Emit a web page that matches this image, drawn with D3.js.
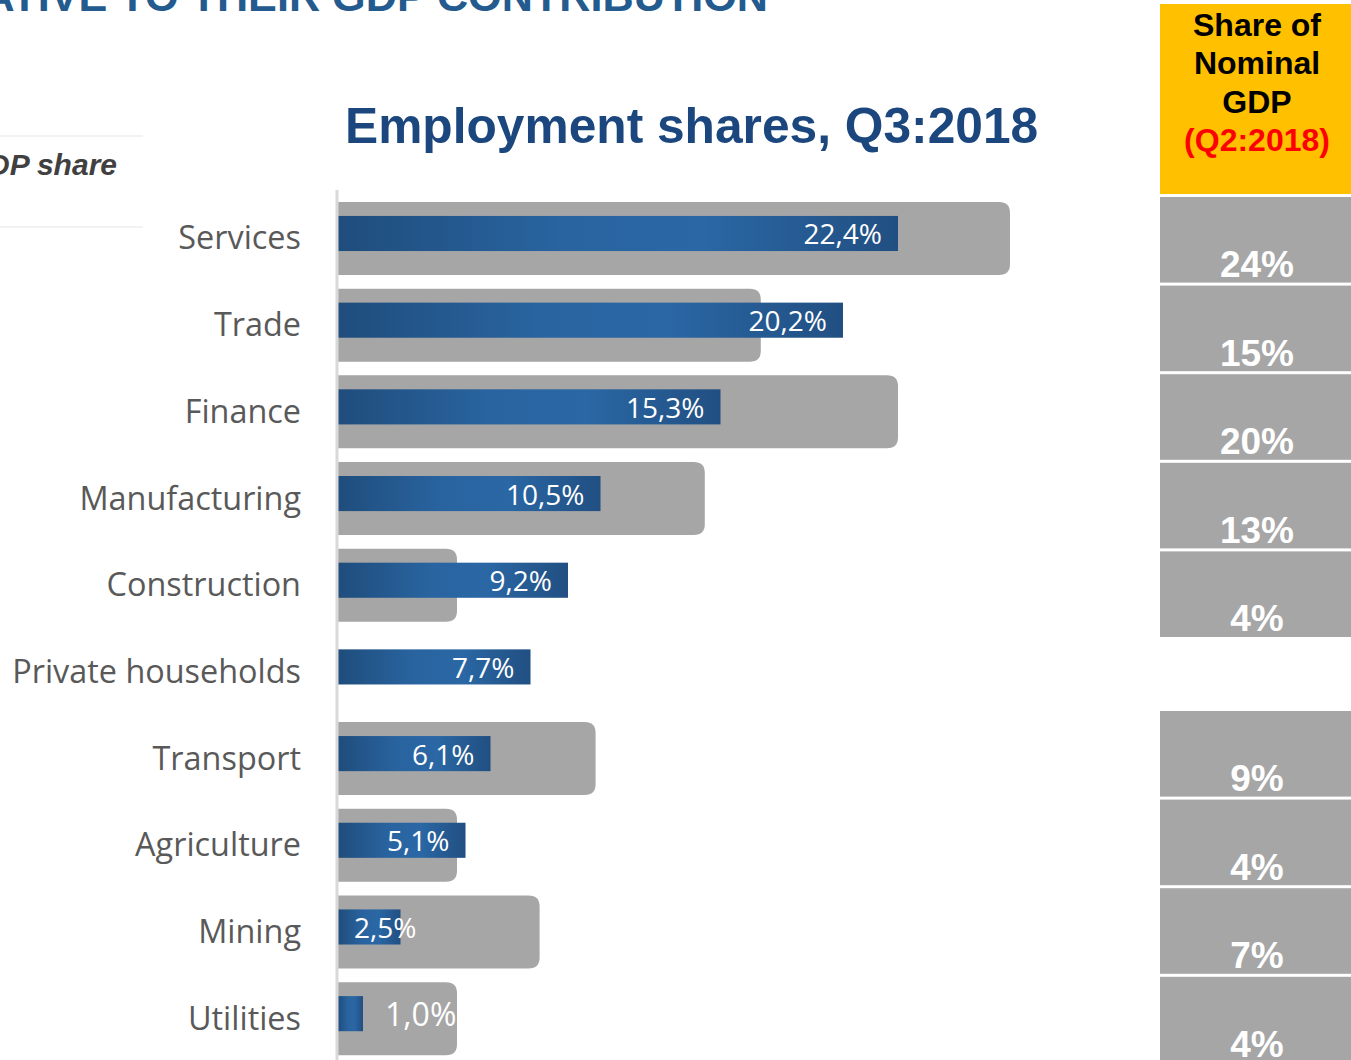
<!DOCTYPE html>
<html>
<head>
<meta charset="utf-8">
<script src="https://cdn.jsdelivr.net/npm/d3@7"></script>
<style>
  html, body { margin: 0; padding: 0; background: #fff; overflow: hidden; }
  svg { display: block; }
</style>
</head>
<body>
<svg id="chart" width="1351" height="1060"></svg>
<script>
// ---------- data ----------
const categories = ["Services", "Trade", "Finance", "Manufacturing", "Construction",
  "Private households", "Transport", "Agriculture", "Mining", "Utilities"];
const employmentShare = [22.4, 20.2, 15.3, 10.5, 9.2, 7.7, 6.1, 5.1, 2.5, 1.0];
const gdpShare = [24.0, 15.1, 20.0, 13.1, 4.25, null, 9.2, 4.25, 7.2, 4.25];
const chartTitle = "Employment shares, Q3:2018";
const slideTitle = "RELATIVE TO THEIR GDP CONTRIBUTION";
const leftHeader = "GDP share";
const tableHeader = ["Share of", "Nominal", "GDP"];
const tableHeaderPeriod = "(Q2:2018)";

// ---------- layout ----------
const svg = d3.select("#chart");
const W = 1351, H = 1060;
const axisX = 338;

const y = d3.scaleBand().domain(categories).range([195.15, 1062]).padding(0);
const step = y.bandwidth();
const xEmp = d3.scaleLinear().domain([0, 22.4]).range([axisX, 898]);
const xGdp = d3.scaleLinear().domain([0, 24]).range([axisX, 1010]);

const fmtEmp = v => d3.format(".1f")(v).replace(".", ",") + "%";
const fmtGdp = v => d3.format(".0f")(v) + "%";

// gradient for employment bars
const defs = svg.append("defs");
const grad = defs.append("linearGradient").attr("id", "blueGrad")
  .attr("x1", "0%").attr("x2", "100%").attr("y1", "0%").attr("y2", "0%");
[["0%", "#1f4d7c"], ["40%", "#2964a0"], ["65%", "#2a67a4"], ["100%", "#214f82"]]
  .forEach(([o, c]) => grad.append("stop").attr("offset", o).attr("stop-color", c));

// ---------- slide title (cut off at top, as in the source slide) ----------
svg.append("text")
  .attr("x", 768).attr("y", 11)
  .attr("text-anchor", "end")
  .attr("font-family", "Liberation Sans, Arial, sans-serif")
  .attr("font-weight", "bold")
  .attr("font-size", 43.2)
  .attr("fill", "#245b8f")
  .text(slideTitle);

// ---------- left header ----------
svg.append("line").attr("x1", 0).attr("x2", 143).attr("y1", 136).attr("y2", 136)
  .attr("stroke", "#eeeeee").attr("stroke-width", 1.5);
svg.append("line").attr("x1", 0).attr("x2", 143).attr("y1", 227).attr("y2", 227)
  .attr("stroke", "#eeeeee").attr("stroke-width", 1.5);
svg.append("text")
  .attr("x", 117).attr("y", 175)
  .attr("text-anchor", "end")
  .attr("font-family", "Liberation Sans, Arial, sans-serif")
  .attr("font-weight", "bold").attr("font-style", "italic")
  .attr("font-size", 30)
  .attr("fill", "#404040")
  .text(leftHeader);

// ---------- chart title ----------
svg.append("text")
  .attr("x", 345).attr("y", 143)
  .attr("font-family", "Liberation Sans, Arial, sans-serif")
  .attr("font-weight", "bold")
  .attr("font-size", 49.7)
  .attr("fill", "#1b477e")
  .text(chartTitle);

// ---------- GDP background bars ----------
function rightRounded(x0, x1, yTop, h, r) {
  r = Math.min(r, (x1 - x0) / 2, h / 2);
  return `M${x0},${yTop} H${x1 - r} Q${x1},${yTop} ${x1},${yTop + r} V${yTop + h - r} Q${x1},${yTop + h} ${x1 - r},${yTop + h} H${x0} Z`;
}
const grayH = step * 0.842;
const rows = categories.map((c, i) => ({ cat: c, emp: employmentShare[i], gdp: gdpShare[i] }));

svg.append("g").selectAll("path")
  .data(rows.filter(d => d.gdp != null))
  .join("path")
  .attr("d", d => {
    const cy = y(d.cat) + step / 2;
    return rightRounded(axisX, xGdp(d.gdp), cy - grayH / 2, grayH, 11);
  })
  .attr("fill", "#a6a6a6");

// ---------- employment bars ----------
const blueH = step * 0.405;
const blueOff = -5;
svg.append("g").selectAll("rect")
  .data(rows)
  .join("rect")
  .attr("x", axisX)
  .attr("y", d => y(d.cat) + step / 2 + blueOff - blueH / 2)
  .attr("width", d => xEmp(d.emp) - axisX)
  .attr("height", blueH)
  .attr("fill", "url(#blueGrad)");

// value labels
const vlab = svg.append("g").selectAll("text")
  .data(rows)
  .join("text")
  .attr("font-family", "Open Sans, sans-serif")
  .attr("fill", "#ffffff")
  .text(d => fmtEmp(d.emp));
vlab.each(function (d) {
  const t = d3.select(this);
  const end = xEmp(d.emp);
  const bw = end - axisX;
  const cy = y(d.cat) + step / 2 + blueOff;
  if (bw < 40) {
    t.attr("font-size", 32).attr("x", end + 22).attr("y", cy + 12);
  } else {
    t.attr("font-size", 28).attr("y", cy + 11);
    const w = this.getComputedTextLength();
    t.attr("x", Math.max(end - 16 - w, axisX + 16));
  }
});

// axis line
svg.append("line")
  .attr("x1", axisX - 1).attr("x2", axisX - 1)
  .attr("y1", 190).attr("y2", H)
  .attr("stroke", "#d9d9d9").attr("stroke-width", 3);

// category labels
svg.append("g").selectAll("text")
  .data(rows)
  .join("text")
  .attr("x", 301)
  .attr("y", d => y(d.cat) + step / 2 + 11)
  .attr("text-anchor", "end")
  .attr("font-family", "Open Sans, sans-serif")
  .attr("font-size", 32.4)
  .attr("fill", "#595959")
  .text(d => d.cat);

// ---------- right table ----------
const tX = 1160, tW = W - 1160;
svg.append("rect").attr("x", tX).attr("y", 4).attr("width", tW).attr("height", 190)
  .attr("fill", "#ffc000");
const hdr = svg.append("text")
  .attr("text-anchor", "middle")
  .attr("font-family", "Liberation Sans, Arial, sans-serif")
  .attr("font-weight", "bold")
  .attr("font-size", 32);
tableHeader.forEach((s, i) => {
  hdr.append("tspan").attr("x", 1257).attr("y", 36 + i * 38.3).attr("fill", "#000").text(s);
});
hdr.append("tspan").attr("x", 1257).attr("y", 36 + 3 * 38.3).attr("fill", "#ff0000").text(tableHeaderPeriod);

const rowStep = 88.6, cellH = 85.6;
function cellTop(i) {
  return i < 5 ? 197 + i * rowStep : 711 + (i - 6) * rowStep;
}
const cells = svg.append("g").selectAll("g")
  .data(rows.map((d, i) => ({ ...d, i })).filter(d => d.gdp != null))
  .join("g");
cells.append("rect")
  .attr("x", tX).attr("y", d => cellTop(d.i))
  .attr("width", tW).attr("height", cellH)
  .attr("fill", "#a6a6a6");
cells.append("text")
  .attr("x", 1257).attr("y", d => cellTop(d.i) + 80)
  .attr("text-anchor", "middle")
  .attr("font-family", "Liberation Sans, Arial, sans-serif")
  .attr("font-weight", "bold")
  .attr("font-size", 37)
  .attr("fill", "#ffffff")
  .text(d => fmtGdp(d.gdp));
</script>
</body>
</html>
